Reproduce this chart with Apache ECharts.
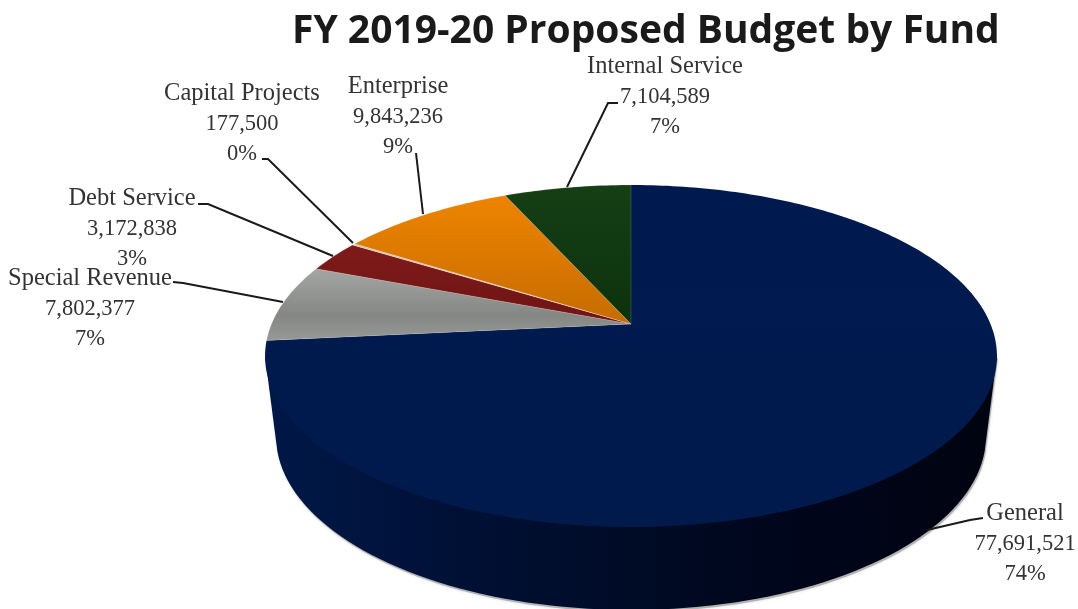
<!DOCTYPE html>
<html><head><meta charset="utf-8">
<style>html,body{margin:0;padding:0;background:#fff}#c{width:1078px;height:609px}</style>
<script src="https://cdn.jsdelivr.net/npm/echarts@6/dist/echarts.min.js"></script>
</head><body><div id="c"></div>
<script>
const categories = ['General','Special Revenue','Debt Service','Capital Projects','Enterprise','Internal Service'];
const values = [77691521,7802377,3172838,177500,9843236,7104589];
const percentLabels = ['74%','7%','3%','0%','9%','7%'];

const total = values.reduce((a,b)=>a+b,0);
const apex = {x:631,y:324}, A=359.5, B=165, K=0.187;
function rim(frac){
  const t = frac*2*Math.PI, x=Math.sin(t), y=Math.cos(t), w=1+K*y;
  return [apex.x + A*x/w, apex.y - B*y/w];
}
const wedgeFills = [
  [[0,'#001a50'],[1,'#011a4c']],
  [[0,'#a4a6a4'],[0.65,'#858785'],[1,'#979997']],
  [[0,'#7f1a1a'],[1,'#6e1414']],
  [[0,'#d9c4b0'],[1,'#d9c4b0']],
  [[0,'#ee8400'],[1,'#c66c00']],
  [[0,'#163f16'],[1,'#0c320c']]
];
const LG = (x0,y0,x1,y1,stops)=>new echarts.graphic.LinearGradient(x0,y0,x1,y1,stops);
function wedge(params, api){
  const i = params.dataIndex;
  let start=0; for(let k=0;k<i;k++) start+=values[k];
  const v = api.value(1);
  const pts=[[apex.x,apex.y]];
  const n=Math.max(2,Math.ceil(v/total*360));
  for(let s=0;s<=n;s++) pts.push(rim((start+v*s/n)/total));
  const f=wedgeFills[i];
  return {type:'polygon',shape:{points:pts},
    style:{fill:LG(0,0,0,1,f.map(s=>({offset:s[0],color:s[1]}))),
      stroke:i===0?null:'rgba(255,255,255,0.25)',lineWidth:i===0?0:0.6}};
}
// side wall: hull between the rim's widest points and a lower base ellipse
const base={cx:631,cy:436,rx:355,ry:174};
function wall(){
  const pts=[[997,356],[265,356]];
  for(let d=175;d>=5;d-=2){const a=d*Math.PI/180;pts.push([base.cx+base.rx*Math.cos(a),base.cy+base.ry*Math.sin(a)]);}
  return pts;
}
const labelPos=[
  {x:1025,y:499},{x:90,y:264},{x:132,y:184},{x:242,y:79},{x:398,y:72},{x:665,y:52}
];
const leaders=[
  [[983,518],[970,520],[927,530]],
  [[173,282],[183,283],[283,302]],
  [[198,204],[208,204],[333,256]],
  [[262,159],[268,159],[353,243]],
  [[416,153],[423,214]],
  [[618,103],[608,103],[567,187]]
];
const option={
  animation:false,
  title:{text:'FY 2019-20 Proposed Budget by Fund',left:287,top:7,
    textStyle:{fontFamily:'Open Sans',fontWeight:'bold',fontSize:39,color:'#1a1a1a'}},
  series:[
    {type:'custom',silent:true,coordinateSystem:'none',data:[0],z:1,
     renderItem:()=>({type:'group',children:[
       {type:'polygon',shape:{points:wall().map(p=>[p[0]+1,p[1]+2])},style:{fill:'rgba(130,130,130,0.5)',shadowBlur:3,shadowColor:'rgba(130,130,130,0.6)'}},
       {type:'polygon',shape:{points:wall()},style:{fill:LG(0,0,1,0,[
         {offset:0,color:'#001848'},{offset:0.2,color:'#00123a'},{offset:0.5,color:'#000b25'},{offset:0.75,color:'#00051a'},{offset:1,color:'#000410'}])}}
     ]})},
    {type:'custom',silent:true,coordinateSystem:'none',z:2,
     data:categories.map((c,i)=>[i,values[i]]),encode:{value:1},renderItem:wedge},
    {type:'custom',silent:true,coordinateSystem:'none',z:3,
     data:categories.map((c,i)=>[i,values[i]]),
     renderItem:(params)=>{
       const i=params.dataIndex,p=labelPos[i];
       return {type:'group',children:[
         {type:'polyline',shape:{points:leaders[i]},style:{fill:null,stroke:'#1a1a1a',lineWidth:2}},
         {type:'text',style:{x:p.x,y:p.y,align:'center',verticalAlign:'top',
           text:'{n|'+categories[i]+'}\n{v|'+values[i].toLocaleString('en-US')+'}\n{v|'+percentLabels[i]+'}',
           rich:{n:{font:'24.5px "Liberation Serif"',lineHeight:30,fill:'#333'},
                 v:{font:'22.5px "Liberation Serif"',lineHeight:30,fill:'#333'}}}}
       ]};
     }}
  ]
};
const chart=echarts.init(document.getElementById('c'),null,{renderer:'canvas'});
chart.setOption(option);
</script></body></html>
